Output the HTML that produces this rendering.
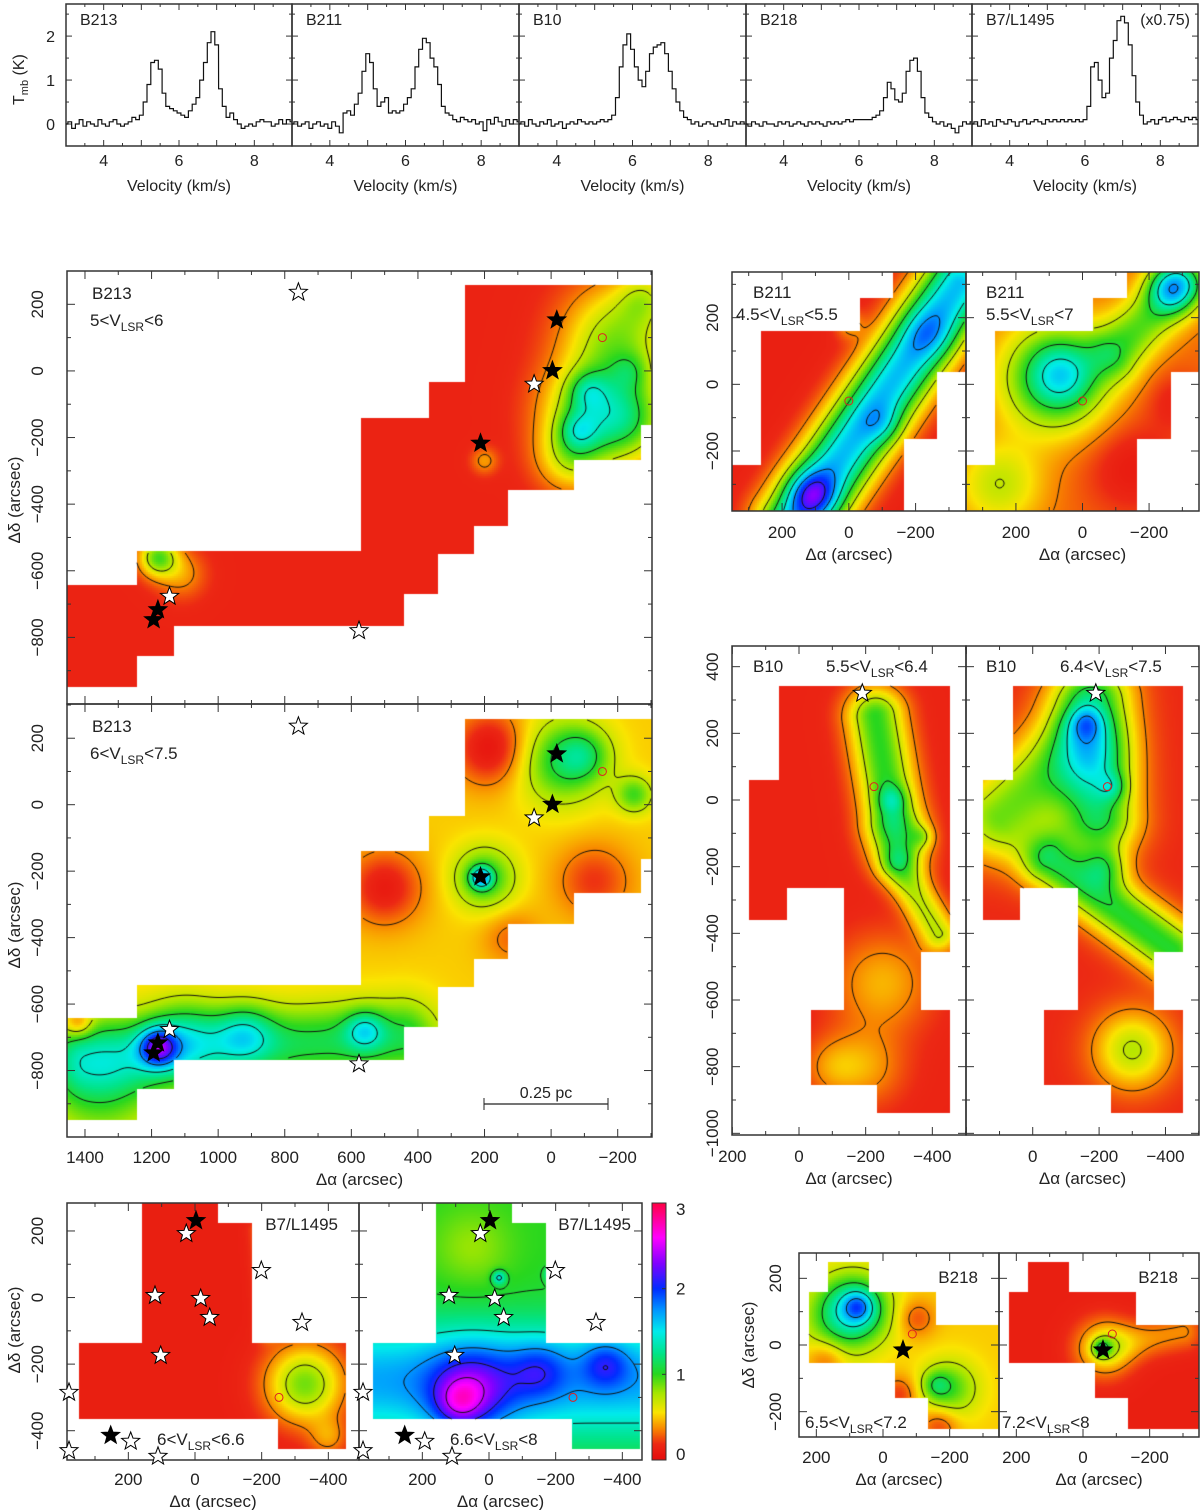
<!DOCTYPE html>
<html><head><meta charset="utf-8"><title>Taurus maps</title>
<style>
body{margin:0;background:#fff;}
#root{position:relative;width:1200px;height:1510px;overflow:hidden;background:#fff;}
canvas{position:absolute;}
svg{position:absolute;left:0;top:0;}
text{font-family:"Liberation Sans",sans-serif;fill:#222;}
</style></head>
<body>
<div id="root">
<svg id="ov" width="1200" height="1510"></svg>
</div>
<script>
// ---------- SPECTRA DATA (channel velocities 3.0..9.0 step 0.1 km/s) ----------
const specNames = ["B213","B211","B10","B218","B7/L1495"];
const specV0 = 3.0, specDV = 0.1;
const tB213 = [0.0,0.05,-0.1,0.0,0.1,-0.05,0.05,0.0,-0.05,0.1,0.0,-0.05,0.05,0.1,0.0,-0.05,0.0,0.05,0.15,0.1,
 0.2,0.5,0.9,1.4,1.45,1.25,0.7,0.4,0.35,0.3,0.25,0.2,0.15,0.3,0.45,0.6,1.0,1.4,1.85,2.1,1.8,0.8,0.4,0.15,0.25,0.1,0.0,-0.1,-0.05,0.0,-0.05,0.05,0.1,0.05,0.05,-0.05,0.0,0.1,0.0,0.1,0.05];
const tB211 = [0.0,0.05,-0.05,0.0,0.05,-0.1,0.0,0.05,-0.05,0.0,-0.1,0.05,-0.05,
 -0.2,0.25,0.3,0.2,0.45,0.7,1.2,1.6,1.4,0.8,0.4,0.5,0.6,0.25,0.3,0.25,0.3,0.45,0.6,0.8,1.3,1.7,1.95,1.85,1.5,1.3,0.9,0.4,0.25,0.2,0.1,0.05,0.15,0.1,0.05,0.1,0.0,0.05,-0.15,0.1,0.0,0.15,0.05,-0.05,0.1,0.0,0.1,0.05];
const tB10 = [0.0,0.05,-0.05,0.1,0.0,-0.05,0.05,0.0,0.1,-0.05,0.0,0.05,-0.1,0.0,0.05,0.0,0.1,0.05,0.0,0.05,0.0,
 0.05,0.1,0.05,0.1,0.2,0.6,1.3,1.8,2.05,1.7,1.3,1.0,0.85,1.2,1.6,1.75,1.8,1.85,1.6,1.2,0.8,0.5,0.3,0.15,0.1,0.0,0.05,-0.05,0.0,0.05,0.0,-0.05,0.05,0.0,0.1,-0.05,0.05,0.0,0.05,0.0];
const tB218 = [0.0,-0.05,0.05,0.0,-0.05,0.05,0.0,0.0,-0.05,0.05,0.0,0.05,-0.05,0.0,0.05,0.0,-0.05,0.05,0.0,0.05,0.0,-0.05,0.05,0.0,0.05,0.0,0.05,0.1,0.05,0.1,0.1,
 0.1,0.1,0.1,0.15,0.2,0.3,0.6,0.95,0.8,0.55,0.5,0.7,1.2,1.45,1.5,1.2,0.6,0.25,0.15,0.05,0.0,0.05,-0.05,0.0,-0.1,-0.2,-0.05,0.05,0.0,0.05];
const tB7 = [0.0,0.05,-0.05,0.1,0.0,0.05,-0.05,0.1,0.05,0.0,0.1,0.05,-0.05,0.05,0.1,0.0,0.05,0.1,0.05,0.0,0.1,0.05,0.1,0.05,0.1,0.05,
 0.1,0.05,0.1,0.05,0.1,0.4,1.3,1.4,1.0,0.6,0.7,1.5,1.9,2.35,2.45,2.3,1.8,1.1,0.5,0.2,0.0,0.05,0.1,0.0,0.1,0.15,0.05,0.1,0.15,0.1,0.05,0.15,0.1,0.15,0.1];
const specSeries = [tB213,tB211,tB10,tB218,tB7];
const velTicks = [4,6,8];
const tmbTicks = [0,1,2];

// ---------- MAP DATA ----------
const maskB213 = [[1454,1244,-642,-950],[1244,1133,-542,-857],[1133,570,-542,-767],[570,441,-140,-767],[441,368,-140,-669],[368,339,-34,-669],[339,260,-34,-549],[260,231,258,-549],[231,130,258,-465],[130,-70,258,-359],[-70,-271,258,-267],[-271,-305,258,-162]];
const maskB211 = [[350,264,-241,-380],[264,-33,159,-380],[-33,-133,260,-380],[-133,-165,337,-380],[-165,-265,337,-163],[-265,-350,337,37]];
const maskB10 = [[150,60,60,-359],[60,37,342,-359],[37,-135,342,-264],[-35,-135,-631,-855],[-135,-235,342,-855],[-235,-365,342,-938],[-365,-453,342,-456],[-365,-453,-631,-938]];
const maskB218 = [[222,164,160,-55],[164,41,250,-55],[41,-36,160,-55],[-36,-136,160,-160],[-136,-159,160,-252],[-159,-348,60,-252]];
const maskB7 = [[348,159,-138,-366],[159,-69,308,-366],[-69,-171,223,-366],[-171,-249,-138,-366],[-249,-453,-138,-454]];

const baseB213a = 0.15;
const blobsB213a = [[-200,100,0.65,110],[-120,-120,0.7,100],[-230,-150,0.65,90],[-60,-260,0.45,70],[-110,-60,0.35,40],[-80,-180,0.4,40],[-240,0,0.25,40],[1180,-560,0.75,40],[1110,-610,0.25,50],[200,-270,0.25,28],[-280,220,0.35,55]];
const ridgesB213a = [];
const baseB213b = 0.5;
const blobsB213b = [[180,170,-0.45,80],[500,-250,-0.4,80],[-130,-230,-0.3,80],[120,-400,-0.2,60],[210,-220,0.8,22],[200,-220,0.55,65],[-30,130,0.55,90],[-100,150,0.35,55],[-250,30,0.45,40],[1180,-730,1.0,40],[920,-690,0.5,60],[1100,-700,0.45,80],[560,-680,0.5,40],[1350,-850,0.45,120],[1420,-660,-0.4,30]];
const ridgesB213b = [[1400,-760,450,-700,0.6,80]];
const baseB211a = 0.13;
const blobsB211a = [[110,-330,0.7,50],[-100,-120,0.25,40],[-240,150,0.25,50],[0,180,0.25,30]];
const ridgesB211a = [[160,-420,-330,300,1.5,75]];
const baseB211b = 0.3;
const blobsB211b = [[80,20,0.95,110],[60,30,0.35,60],[250,-300,0.4,90],[-270,290,0.9,50],[-150,-250,-0.2,100],[-280,-50,-0.15,60]];
const ridgesB211b = [[-100,100,-300,300,0.6,60]];
const baseB10a = 0.15;
const blobsB10a = [[-300,-150,0.55,60],[-280,0,0.35,30],[-370,-110,0.3,25],[-250,-550,0.3,100],[-200,-800,0.25,80],[-100,-800,0.2,60]];
const ridgesB10a = [[-230,250,-280,-50,0.85,60],[-300,-200,-420,-400,0.55,40]];
const baseB10b = 0.18;
const blobsB10b = [[-160,230,0.45,35],[-220,-200,0.45,45],[-240,40,0.3,30],[-300,-750,0.55,80]];
const ridgesB10b = [[-180,300,-200,-50,0.9,80],[100,-50,-120,150,0.7,90],[-50,-180,-420,-450,0.85,60]];
const baseB218a = 0.5;
const blobsB218a = [[80,110,0.7,70],[75,115,0.5,30],[130,80,0.4,80],[-200,-130,0.45,60],[-160,-120,0.3,30],[-100,80,-0.25,40],[170,-40,-0.25,40],[-50,-150,-0.3,40],[-170,-240,-0.3,40]];
const ridgesB218a = [];
const baseB218b = 0.12;
const blobsB218b = [[-60,-10,0.45,60],[-55,-10,0.5,20]];
const ridgesB218b = [[-100,0,-300,40,0.25,40]];
const baseB7a = 0.12;
const blobsB7a = [[-330,-260,0.75,80],[-400,-420,0.25,40]];
const ridgesB7a = [[-220,-100,-200,200,0.25,25]];
const baseB7b = 1.0;
const blobsB7b = [[50,-280,0.7,90],[-150,-220,0.4,60],[-350,-200,0.45,50],[90,-320,0.5,50],[50,150,-0.2,80],[-190,70,0.5,15],[-30,60,0.5,15]];
const ridgesB7b = [[350,-250,-450,-250,0.7,120]];

const starsB213 = [[759,236,0],[-17,153,1],[-4,1,1],[51,-40,0],[212,-217,1],[1146,-677,0],[1181,-717,1],[1194,-747,1],[577,-780,0]];
const starsB10 = [[-190,320,0]];
const starsB218 = [[-60,-15,1]];
const starsB7 = [[-3,231,1],[26,192,0],[-199,81,0],[120,6,0],[-17,-3,0],[-44,-60,0],[-321,-75,0],[103,-174,0],[253,-414,1],[193,-432,0],[378,-285,0],[378,-460,0],[111,-477,0]];
const colorbarTicks = [0,1,2,3];

// ---------- helpers ----------
const NS="http://www.w3.org/2000/svg";
const svg=document.getElementById('ov');
const root=document.getElementById('root');
function mk(tag,attrs,parent){const e=document.createElementNS(NS,tag);for(const k in attrs)e.setAttribute(k,attrs[k]);(parent||svg).appendChild(e);return e;}
function txt(x,y,s,size,anchor,rot,name){
  const t=mk('text',{x:x,y:y,'font-size':size,'text-anchor':anchor||'start'});
  if(rot)t.setAttribute('transform','rotate('+rot+' '+x+' '+y+')');
  t.textContent=s;
  
  
  return t;}
function vlsrLabel(x,y,lo,hi,anchor,name){
  const t=mk('text',{x:x,y:y,'font-size':17,'text-anchor':anchor||'start'});
  
  
  const a=mk('tspan',{},t);a.textContent=lo+'<V';
  const b=mk('tspan',{dy:5,'font-size':12},t);b.textContent='LSR';
  const c=mk('tspan',{dy:-5},t);c.textContent='<'+hi;
  return t;}

const CM=[[0,[228,12,12]],[0.18,[236,40,20]],[0.35,[248,130,0]],[0.55,[250,228,0]],[0.78,[165,230,0]],[1.0,[40,215,30]],[1.25,[0,228,140]],[1.5,[0,235,235]],[1.75,[0,150,255]],[2.0,[0,45,255]],[2.3,[130,0,255]],[2.6,[255,0,255]],[3.0,[255,0,70]]];
function cmap(v){
  if(v<=0)return CM[0][1]; if(v>=3)return CM[CM.length-1][1];
  for(let i=0;i<CM.length-1;i++){const a=CM[i],b=CM[i+1];if(v<=b[0]){const f=(v-a[0])/(b[0]-a[0]);return [0,1,2].map(k=>a[1][k]+(b[1][k]-a[1][k])*f);}}
  return CM[CM.length-1][1];}

function star(cx,cy,r,filled,name){
  let p=[];for(let i=0;i<10;i++){const ang=-Math.PI/2+i*Math.PI/5;const rr=i%2?r*0.42:r;p.push((cx+rr*Math.cos(ang)).toFixed(1)+','+(cy+rr*Math.sin(ang)).toFixed(1));}
  const s=mk('polygon',{points:p.join(' '),fill:filled?'#000':'#fff',stroke:'#000','stroke-width':1});
  
  
  return s;}

// ---------- SPECTRA ----------
const specX=[66,292,519,746,972,1198];
const specTop=4, specBot=146, tMax=2.73, tMin=-0.5;
specNames.forEach((nm,k)=>{
  const x0=specX[k], x1=specX[k+1], w=x1-x0;
  const X=v=>x0+(v-3)/6*w;
  const Y=t=>specTop+(tMax-t)/(tMax-tMin)*(specBot-specTop);
  const g=mk('g',{});
  
  
  mk('rect',{x:x0,y:specTop,width:w,height:specBot-specTop,fill:'none',stroke:'#333','stroke-width':1.5},g);
  for(let v=3;v<=9.001;v+=0.5){const L=(Math.abs(v-Math.round(v))<0.01)?6:3;
    mk('line',{x1:X(v),x2:X(v),y1:specBot,y2:specBot-L,stroke:'#333'},g);
    mk('line',{x1:X(v),x2:X(v),y1:specTop,y2:specTop+L,stroke:'#333'},g);}
  for(let t=-0.5;t<=2.51;t+=0.5){const L=(Math.abs(t-Math.round(t))<0.01)?6:3;
    mk('line',{x1:x0,x2:x0+L,y1:Y(t),y2:Y(t),stroke:'#333'},g);
    mk('line',{x1:x1,x2:x1-L,y1:Y(t),y2:Y(t),stroke:'#333'},g);}
  const data=specSeries[k];
  let d='';
  data.forEach((t,i)=>{const v=specV0+i*specDV;const xa=Math.max(x0,X(v-specDV/2)),xb=Math.min(x1,X(v+specDV/2));
    d+=(i===0?'M':'L')+xa.toFixed(1)+','+Y(t).toFixed(1)+'L'+xb.toFixed(1)+','+Y(t).toFixed(1);});
  const path=mk('path',{d:d,fill:'none',stroke:'#111','stroke-width':1.2},g);
  
  
  velTicks.forEach(v=>txt(X(v),166,String(v),16,'middle',0,'velocity-tick-label'));
  txt((x0+x1)/2,191,'Velocity (km/s)',16,'middle',0,'x-axis-title');
  txt(x0+14,25,nm,16,'start',0,'spectrum-source-label');
  if(k===0){tmbTicks.forEach(t=>txt(55,Y(t)+6,String(t),16,'end',0,'tmb-tick-label'));}
});
txt(1190,25,'(x0.75)',16,'end',0,'scale-factor-label');
{const t=mk('text',{x:24,y:105,'font-size':16,transform:'rotate(-90 24 105)'});
 
 
 const a=mk('tspan',{},t);a.textContent='T';const b=mk('tspan',{dy:4,'font-size':11},t);b.textContent='mb';const c=mk('tspan',{dy:-4},t);c.textContent=' (K)';}

// ---------- MAP PANELS ----------
function field(base,blobs,ridges,a,d){
  let v=base;
  for(const b of blobs){const dx=a-b[0],dy=d-b[1];v+=b[2]*Math.exp(-(dx*dx+dy*dy)/(2*b[3]*b[3]));}
  for(const r of ridges){const ux=r[2]-r[0],uy=r[3]-r[1];const L2=ux*ux+uy*uy;let t=((a-r[0])*ux+(d-r[1])*uy)/L2;t=Math.max(0,Math.min(1,t));
    const px=r[0]+t*ux-a,py=r[1]+t*uy-d;v+=r[4]*Math.exp(-(px*px+py*py)/(2*r[5]*r[5]));}
  return v;}
function inMask(mask,a,d){for(const m of mask){if(a<=m[0]&&a>=m[1]&&d<=m[2]&&d>=m[3])return true;}return false;}

const LEVELS=[0.35,0.7,1.05,1.4,1.75,2.1,2.45,2.8];
function drawMap(p){
  const w=p.x1-p.x0,h=p.y1-p.y0;
  const A=px=>p.a0+(px-p.x0)/(w)*(p.a1-p.a0);
  const D=py=>p.d0+(py-p.y0)/(h)*(p.d1-p.d0);
  const cv=document.createElement('canvas');cv.width=w;cv.height=h;cv.style.left=p.x0+'px';cv.style.top=p.y0+'px';
  
  
  root.insertBefore(cv,svg);
  const ctx=cv.getContext('2d');
  const s=2,nx=Math.ceil(w/s)+1,ny=Math.ceil(h/s)+1;
  const G=[],M=[];
  for(let j=0;j<ny;j++){G.push(new Float32Array(nx));M.push(new Uint8Array(nx));
    for(let i=0;i<nx;i++){const a=A(p.x0+i*s),d=D(p.y0+j*s);M[j][i]=inMask(p.mask,a,d)?1:0;G[j][i]=field(p.base,p.blobs,p.ridges,a,d);}}
  const img=ctx.createImageData(w,h);
  for(let y=0;y<h;y++)for(let x=0;x<w;x++){
    const a=A(p.x0+x+0.5),d=D(p.y0+y+0.5);const o=(y*w+x)*4;
    if(!inMask(p.mask,a,d)){img.data[o]=255;img.data[o+1]=255;img.data[o+2]=255;img.data[o+3]=255;continue;}
    const i=Math.min(nx-1,Math.round(x/s)),j=Math.min(ny-1,Math.round(y/s));
    const c=cmap(G[j][i]);img.data[o]=c[0];img.data[o+1]=c[1];img.data[o+2]=c[2];img.data[o+3]=255;}
  ctx.putImageData(img,0,0);
  ctx.strokeStyle='#111';ctx.lineWidth=1;ctx.beginPath();
  for(const L of LEVELS){
    for(let j=0;j<ny-1;j++)for(let i=0;i<nx-1;i++){
      if(!(M[j][i]&&M[j][i+1]&&M[j+1][i]&&M[j+1][i+1]))continue;
      const v=[G[j][i],G[j][i+1],G[j+1][i+1],G[j+1][i]];
      const P=[[i,j],[i+1,j],[i+1,j+1],[i,j+1]];
      const pts=[];
      for(let e=0;e<4;e++){const va=v[e],vb=v[(e+1)%4];if((va<L)!==(vb<L)){const f=(L-va)/(vb-va);const pa=P[e],pb=P[(e+1)%4];pts.push([(pa[0]+(pb[0]-pa[0])*f)*s,(pa[1]+(pb[1]-pa[1])*f)*s]);}}
      if(pts.length>=2){ctx.moveTo(pts[0][0],pts[0][1]);ctx.lineTo(pts[1][0],pts[1][1]);}
      if(pts.length===4){ctx.moveTo(pts[2][0],pts[2][1]);ctx.lineTo(pts[3][0],pts[3][1]);}
    }}
  ctx.stroke();
  const g=mk('g',{});
  
  
  const Xa=a=>p.x0+(a-p.a0)/(p.a1-p.a0)*w, Yd=d=>p.y0+(d-p.d0)/(p.d1-p.d0)*h;
  mk('rect',{x:p.x0,y:p.y0,width:w,height:h,fill:'none',stroke:'#333','stroke-width':1.5},g);
  const amin=Math.min(p.a0,p.a1),amax=Math.max(p.a0,p.a1),dmin=Math.min(p.d0,p.d1),dmax=Math.max(p.d0,p.d1);
  for(let a=Math.ceil(amin/100)*100;a<=amax;a+=100){const L=a%200===0?8:4;const x=Xa(a);
    mk('line',{x1:x,x2:x,y1:p.y1,y2:p.y1-L,stroke:'#333'},g);mk('line',{x1:x,x2:x,y1:p.y0,y2:p.y0+L,stroke:'#333'},g);}
  for(let d=Math.ceil(dmin/100)*100;d<=dmax;d+=100){const L=d%200===0?8:4;const y=Yd(d);
    mk('line',{x1:p.x0,x2:p.x0+L,y1:y,y2:y,stroke:'#333'},g);mk('line',{x1:p.x1,x2:p.x1-L,y1:y,y2:y,stroke:'#333'},g);}
  if(p.xlab){p.xlab.forEach(a=>{const x=Xa(a);if(x>p.x0-8&&x<p.x1+8)txt(x,p.xlabY,a<0?'\u2212'+(-a):String(a),17,'middle',0,'x-tick-label');});
    txt((p.x0+p.x1)/2,p.xlabY+22,'\u0394\u03b1 (arcsec)',17,'middle',0,'x-axis-title');}
  if(p.ylab){p.ylab.forEach(d=>{const y=Yd(d);if(y>p.y0-5&&y<p.y1+5)txt(p.ylabX,y,d<0?'\u2212'+(-d):String(d),17,'middle',-90,'y-tick-label');});}
  (p.stars||[]).forEach(st=>{const x=Xa(st[0]),y=Yd(st[1]);if(x>p.x0-5&&x<p.x1+5&&y>p.y0-5&&y<p.y1+5)star(x,y,9.5,st[2],st[2]?'protostar-marker':'starless-marker');});
  if(p.circle){const c=mk('circle',{cx:Xa(p.circle[0]),cy:Yd(p.circle[1]),r:4,fill:'none',stroke:'#d22','stroke-width':1});
    
    }
  return {Xa,Yd};
}

const panels=[
 {name:'b213-map-low',x0:67,y0:271,x1:652,y1:704,a0:1454,a1:-303,d0:300,d1:-1000,mask:maskB213,base:baseB213a,blobs:blobsB213a,ridges:ridgesB213a,stars:starsB213,circle:[-154,100],ylab:[200,0,-200,-400,-600,-800],ylabX:43},
 {name:'b213-map-high',x0:67,y0:704,x1:652,y1:1137,a0:1454,a1:-303,d0:303,d1:-1000,mask:maskB213,base:baseB213b,blobs:blobsB213b,ridges:ridgesB213b,stars:starsB213,circle:[-154,100],ylab:[200,0,-200,-400,-600,-800],ylabX:43,xlab:[1400,1200,1000,800,600,400,200,0,-200],xlabY:1163},
 {name:'b211-map-low',x0:732,y0:272,x1:966,y1:511,a0:350,a1:-351,d0:337,d1:-380,mask:maskB211,base:baseB211a,blobs:blobsB211a,ridges:ridgesB211a,circle:[0,-50],ylab:[200,0,-200],ylabX:718,xlab:[200,0,-200],xlabY:538},
 {name:'b211-map-high',x0:966,y0:272,x1:1199,y1:511,a0:350,a1:-350,d0:337,d1:-380,mask:maskB211,base:baseB211b,blobs:blobsB211b,ridges:ridgesB211b,circle:[0,-50],xlab:[200,0,-200],xlabY:538},
 {name:'b10-map-low',x0:732,y0:646,x1:966,y1:1135,a0:201,a1:-501,d0:462,d1:-1005,mask:maskB10,base:baseB10a,blobs:blobsB10a,ridges:ridgesB10a,stars:starsB10,circle:[-225,40],ylab:[400,200,0,-200,-400,-600,-800,-1000],ylabX:718,xlab:[200,0,-200,-400],xlabY:1162},
 {name:'b10-map-high',x0:966,y0:646,x1:1199,y1:1135,a0:201,a1:-501,d0:462,d1:-1005,mask:maskB10,base:baseB10b,blobs:blobsB10b,ridges:ridgesB10b,stars:starsB10,circle:[-225,40],xlab:[0,-200,-400],xlabY:1162},
 {name:'b218-map-low',x0:799,y0:1253,x1:999,y1:1437,a0:252,a1:-348,d0:276,d1:-276,mask:maskB218,base:baseB218a,blobs:blobsB218a,ridges:ridgesB218a,stars:starsB218,circle:[-88,33],ylab:[200,0,-200],ylabX:781,xlab:[200,0,-200],xlabY:1463},
 {name:'b218-map-high',x0:999,y0:1253,x1:1199,y1:1437,a0:252,a1:-348,d0:276,d1:-276,mask:maskB218,base:baseB218b,blobs:blobsB218b,ridges:ridgesB218b,stars:starsB218,circle:[-88,33],xlab:[200,0,-200],xlabY:1463},
 {name:'b7-map-low',x0:67,y0:1203,x1:359,y1:1460,a0:384,a1:-492,d0:284,d1:-488,mask:maskB7,base:baseB7a,blobs:blobsB7a,ridges:ridgesB7a,stars:starsB7,circle:[-252,-300],ylab:[200,0,-200,-400],ylabX:43,xlab:[200,0,-200,-400],xlabY:1485},
 {name:'b7-map-high',x0:359,y0:1203,x1:642,y1:1460,a0:390,a1:-459,d0:284,d1:-488,mask:maskB7,base:baseB7b,blobs:blobsB7b,ridges:ridgesB7b,stars:starsB7,circle:[-252,-300],xlab:[200,0,-200,-400],xlabY:1485}
];
panels.forEach(drawMap);

txt(92,299,'B213',17,'start',0,'panel-source-label'); vlsrLabel(90,326,'5','6','start','velocity-range-label');
txt(92,732,'B213',17,'start',0,'panel-source-label'); vlsrLabel(90,759,'6','7.5','start','velocity-range-label');
txt(753,298,'B211',17,'start',0,'panel-source-label'); vlsrLabel(736,320,'4.5','5.5','start','velocity-range-label');
txt(986,298,'B211',17,'start',0,'panel-source-label'); vlsrLabel(986,320,'5.5','7','start','velocity-range-label');
txt(753,672,'B10',17,'start',0,'panel-source-label'); vlsrLabel(826,672,'5.5','6.4','start','velocity-range-label');
txt(986,672,'B10',17,'start',0,'panel-source-label'); vlsrLabel(1060,672,'6.4','7.5','start','velocity-range-label');
txt(978,1283,'B218',17,'end',0,'panel-source-label'); vlsrLabel(805,1428,'6.5','7.2','start','velocity-range-label');
txt(1178,1283,'B218',17,'end',0,'panel-source-label'); vlsrLabel(1002,1428,'7.2','8','start','velocity-range-label');
txt(338,1230,'B7/L1495',17,'end',0,'panel-source-label'); vlsrLabel(157,1445,'6','6.6','start','velocity-range-label');
txt(631,1230,'B7/L1495',17,'end',0,'panel-source-label'); vlsrLabel(450,1445,'6.6','8','start','velocity-range-label');
txt(20,500,'\u0394\u03b4 (arcsec)',17,'middle',-90,'y-axis-title');
txt(20,925,'\u0394\u03b4 (arcsec)',17,'middle',-90,'y-axis-title');
txt(20,1330,'\u0394\u03b4 (arcsec)',17,'middle',-90,'y-axis-title');
txt(754,1345,'\u0394\u03b4 (arcsec)',17,'middle',-90,'y-axis-title');
{const g=mk('g',{});
 mk('line',{x1:484,x2:608,y1:1104,y2:1104,stroke:'#222','stroke-width':1.2},g);
 mk('line',{x1:484,x2:484,y1:1098,y2:1110,stroke:'#222'},g);mk('line',{x1:608,x2:608,y1:1098,y2:1110,stroke:'#222'},g);
 txt(546,1098,'0.25 pc',16,'middle',0,'scale-bar-label');}
{const cb={x0:652,y0:1203,x1:666,y1:1460};
 const cv=document.createElement('canvas');cv.width=cb.x1-cb.x0;cv.height=cb.y1-cb.y0;cv.style.left=cb.x0+'px';cv.style.top=cb.y0+'px';
 
 
 root.insertBefore(cv,svg);const ctx=cv.getContext('2d');const H=cv.height;
 for(let y=0;y<H;y++){const c=cmap(3*(1-y/(H-1)));ctx.fillStyle='rgb('+c.map(Math.round).join(',')+')';ctx.fillRect(0,y,cv.width,1);}
 mk('rect',{x:cb.x0,y:cb.y0,width:cb.x1-cb.x0,height:cb.y1-cb.y0,fill:'none',stroke:'#333'});
 colorbarTicks.forEach(v=>{const y=cb.y1-v/3*(cb.y1-cb.y0);txt(676,y+(v===3?12:v===0?0:6),String(v),17,'start',0,'colorbar-tick-label');
   mk('line',{x1:cb.x1-4,x2:cb.x1,y1:y,y2:y,stroke:'#333'});});}
</script>
</body></html>
